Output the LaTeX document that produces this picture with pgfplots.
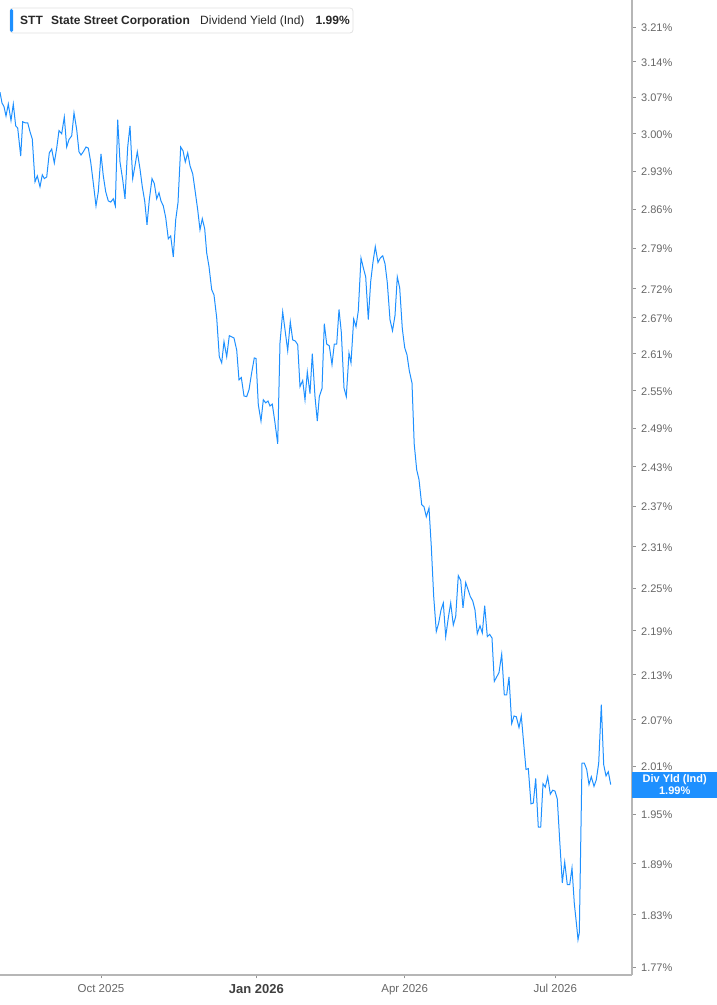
\documentclass[border=0pt]{standalone}
\usepackage{pgfplots}
\pgfplotsset{compat=1.18}
\usepackage{fontspec}
\setmainfont{Liberation Sans}
\definecolor{lineblue}{RGB}{30,144,255}
\definecolor{axgray}{RGB}{182,182,182}
\definecolor{txtgray}{RGB}{102,102,102}
\definecolor{hdrtxt}{RGB}{40,40,40}
\definecolor{boxgray}{RGB}{225,225,225}
\begin{document}
\begin{tikzpicture}
\useasboundingbox (0,0) rectangle (717pt,1005pt);
\begin{axis}[
  at={(0pt,30pt)}, anchor=south west,
  scale only axis, width=632pt, height=975pt,
  xmin=0, xmax=632, ymode=log, ymin=1.7613, ymax=3.2653,
  axis x line*=bottom, axis y line*=right,
  axis line style={axgray, line width=1.5pt, -},
  tick align=outside, major tick length=3.5pt,
  tick style={axgray!80!black, line width=0.8pt},
  xtick={101,256.3,404.7,555.3},
  xticklabels={Oct 2025, {\fontsize{13}{15}\selectfont\bfseries\color{darkgray}Jan 2026}, Apr 2026, Jul 2026},
  xticklabel style={font=\fontsize{11.5}{13}\selectfont, text=txtgray, anchor=north, inner sep=0pt, yshift=-6pt},
  ytick={3.21,3.14,3.07,3.00,2.93,2.86,2.79,2.72,2.67,2.61,2.55,2.49,2.43,2.37,2.31,2.25,2.19,2.13,2.07,2.01,1.95,1.89,1.83,1.77},
  yticklabels={3.21\%,3.14\%,3.07\%,3.00\%,2.93\%,2.86\%,2.79\%,2.72\%,2.67\%,2.61\%,2.55\%,2.49\%,2.43\%,2.37\%,2.31\%,2.25\%,2.19\%,2.13\%,2.07\%,2.01\%,1.95\%,1.89\%,1.83\%,1.77\%},
  yticklabel style={font=\fontsize{11}{13}\selectfont, text=txtgray, anchor=west, inner sep=0pt, xshift=5.5pt, yshift=-0.8pt},
  minor tick num=0,
  clip mode=individual,
]
\addplot[lineblue, line width=1pt] table {
x y
0 3.080
2 3.059
4 3.052
6 3.034
8.3 3.057
11 3.025
13.3 3.057
15.7 3.015
17.7 3.011
20.7 2.958
22.7 3.023
25 3.021
27.7 3.021
30 3.004
32.3 2.990
35 2.910
37.3 2.921
40 2.901
42.3 2.923
44.3 2.916
46.7 2.919
49.3 2.964
51.7 2.971
54.3 2.945
56.7 2.973
59 3.006
61.7 3.000
64.3 3.032
66.7 2.975
69 2.989
71.7 2.996
74 3.040
76.7 3.008
79 2.966
81 2.960
83.3 2.966
86 2.975
88.3 2.973
90.7 2.947
93.3 2.908
96 2.866
98.3 2.892
101 2.962
103.3 2.921
105.7 2.892
108.3 2.875
110.7 2.873
113.3 2.879
115.3 2.866
117.7 3.027
120 2.947
122.7 2.914
125 2.879
127.7 2.975
130 3.015
132.7 2.916
135 2.940
137.3 2.966
140 2.934
142.3 2.901
144.7 2.875
147 2.832
149.3 2.877
152 2.916
154.3 2.907
156.7 2.879
159 2.890
161 2.875
163.3 2.866
165.7 2.845
168.3 2.807
170.7 2.812
173.3 2.775
175.7 2.841
178 2.872
180.7 2.975
183 2.968
185.3 2.947
187.7 2.964
190 2.940
192.7 2.925
195 2.895
197.7 2.859
200 2.823
202.3 2.843
204.7 2.825
206.7 2.782
209 2.758
211.7 2.718
214 2.709
216.7 2.670
219.3 2.605
221.7 2.595
224 2.630
226.7 2.605
229.3 2.640
231.7 2.638
234 2.636
236.7 2.616
239 2.567
241.3 2.571
244 2.541
246.7 2.540
249 2.551
251.7 2.579
254.3 2.603
256 2.602
258.3 2.527
261 2.501
263.3 2.535
265.7 2.530
268 2.533
270 2.525
272.3 2.528
275 2.498
277.7 2.465
280 2.628
282.7 2.680
285 2.650
287.7 2.615
290.3 2.663
292.7 2.633
295.3 2.631
297.7 2.625
300 2.556
302.7 2.566
305 2.535
307.3 2.580
310 2.545
312.3 2.610
315 2.540
317.3 2.501
319.3 2.540
322 2.553
324.3 2.660
326.7 2.626
329.3 2.623
332 2.592
334.3 2.626
336.7 2.626
339 2.684
341.3 2.646
344 2.554
346.3 2.540
349 2.611
351 2.595
353.7 2.668
356 2.655
358.3 2.682
361 2.773
363.3 2.756
365.7 2.740
368.3 2.667
370.7 2.732
373 2.766
375.3 2.793
378 2.765
380.3 2.773
382.7 2.777
385 2.763
387.3 2.730
390 2.667
392.5 2.648
395 2.674
397.3 2.740
399.7 2.721
402.3 2.652
404.7 2.620
407 2.608
409.3 2.582
412 2.562
414.2 2.465
416.7 2.425
419 2.410
421.7 2.372
424 2.369
426.3 2.354
429 2.367
431.3 2.310
433.7 2.238
436.3 2.189
438.7 2.201
441 2.219
443.3 2.229
445.7 2.182
448.3 2.208
450.7 2.229
453.3 2.198
455.7 2.210
458.3 2.268
460.7 2.261
463 2.222
465.7 2.258
468 2.248
470.3 2.238
472.7 2.232
475 2.219
477.3 2.186
480 2.197
482.3 2.187
484.7 2.225
487.3 2.182
489.7 2.185
492 2.180
494.3 2.121
496.7 2.127
499 2.133
501.7 2.158
504.3 2.103
506.7 2.103
509 2.127
511.7 2.065
514 2.075
516.3 2.074
519 2.060
521.3 2.075
523.7 2.039
526 2.006
528.3 2.007
531 1.963
533.3 1.964
535.7 1.995
538.3 1.934
540.7 1.934
543 1.988
545.3 1.984
547.7 1.997
550.3 1.975
552.7 1.980
555 1.979
557.3 1.969
559.7 1.918
562.3 1.867
564.7 1.892
567.3 1.865
569.7 1.865
572 1.885
574.3 1.843
577 1.813
578 1.801
579.3 1.809
582 2.014
584.3 2.014
586.7 2.006
589 1.987
591.3 1.997
594 1.985
596.3 1.993
598.7 2.014
601.3 2.090
603.7 2.012
606 1.998
608.3 2.003
610.7 1.987
};
\node[fill=lineblue, text=white, font=\bfseries\fontsize{11}{12.5}\selectfont, align=center, anchor=west, minimum width=85pt, minimum height=26pt, inner sep=0pt] at (axis cs:632,1.987) {Div Yld (Ind)\\1.99\%};
\end{axis}
% header legend
\draw[boxgray, fill=white, rounded corners=3pt, line width=0.8pt] (10pt,997pt) rectangle (353pt,972pt);
\fill[lineblue, rounded corners=1.5pt] (10pt,996pt) rectangle (13.2pt,973pt);
\node[anchor=base west, inner sep=0pt, text=hdrtxt, font=\bfseries\fontsize{12}{14}\selectfont] at (20pt,980pt) {STT};
\node[anchor=base west, inner sep=0pt, text=hdrtxt, font=\bfseries\fontsize{12}{14}\selectfont] at (51pt,980pt) {State Street Corporation};
\node[anchor=base west, inner sep=0pt, text=hdrtxt, font=\fontsize{12}{14}\selectfont] at (200pt,980pt) {Dividend Yield (Ind)};
\node[anchor=base west, inner sep=0pt, text=hdrtxt, font=\bfseries\fontsize{12}{14}\selectfont] at (315.5pt,980pt) {1.99\%};
\end{tikzpicture}
\end{document}
